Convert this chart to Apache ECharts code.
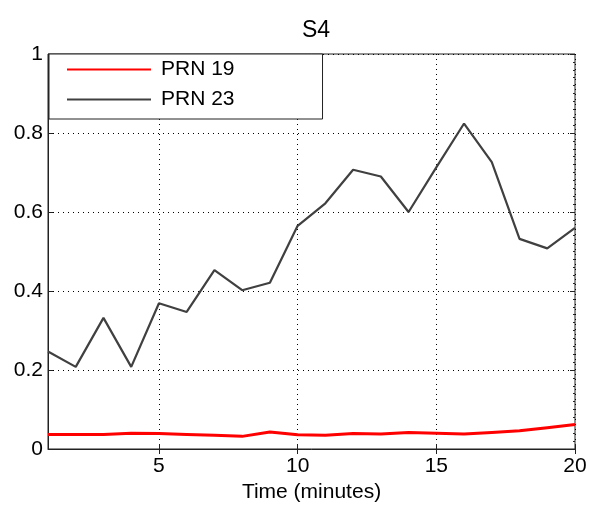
<!DOCTYPE html>
<html>
<head>
<meta charset="utf-8">
<script src="https://cdn.jsdelivr.net/npm/echarts@6/dist/echarts.min.js"></script>
<style>
  html, body { margin: 0; padding: 0; background: #fff; }
  #chart { width: 590px; height: 508px; }
</style>
</head>
<body>
<div id="chart"></div>
<script>
// time in minutes
const minutes = [1, 2, 3, 4, 5, 6, 7, 8, 9, 10, 11, 12, 13, 14, 15, 16, 17, 18, 19, 20];
const prn19 = [0.037, 0.037, 0.037, 0.040, 0.039, 0.037, 0.035, 0.032, 0.043, 0.036,
               0.035, 0.039, 0.038, 0.042, 0.040, 0.038, 0.042, 0.046, 0.054, 0.062];
const prn23 = [0.247, 0.208, 0.332, 0.208, 0.369, 0.347, 0.453, 0.402, 0.421, 0.565,
               0.622, 0.707, 0.690, 0.600, 0.713, 0.824, 0.726, 0.532, 0.508, 0.560];
const xTicks = [5, 10, 15, 20];

const font = '"Liberation Sans", Arial, sans-serif';

function pairs(ys) {
  return minutes.map((x, i) => [x, ys[i]]);
}

const chart = echarts.init(document.getElementById('chart'));

const tickStyle = { lineStyle: { color: '#222', width: 1 } };
const labelFont = { fontFamily: font, fontSize: 21, color: '#000' };

let option = {
  backgroundColor: '#fff',
  animation: false,
  title: {
    text: 'S4',
    left: 311,
    top: 14,
    textAlign: 'center',
    textStyle: { fontFamily: font, fontSize: 23, fontWeight: 'normal', color: '#000' }
  },
  legend: {
    orient: 'vertical',
    left: 49,
    top: 54,
    padding: [5, 88, 9, 17],
    itemGap: 9,
    itemWidth: 84,
    itemHeight: 21,
    itemStyle: { opacity: 0 },
    borderColor: '#222',
    borderWidth: 1,
    backgroundColor: '#fff',
    textStyle: { ...labelFont, padding: [0, 0, 0, 5] },
    data: ['PRN 19', 'PRN 23']
  },
  grid: {
    left: 48, right: 15, top: 54, bottom: 55,
    show: true,
    borderColor: '#222',
    borderWidth: 1
  },
  xAxis: [{
    type: 'value',
    min: 1,
    max: 20,
    name: 'Time (minutes)',
    nameLocation: 'middle',
    nameGap: 33,
    nameTextStyle: labelFont,
    axisLine: { show: true, lineStyle: { color: '#222' } },
    axisTick: { inside: true, length: 5, customValues: xTicks, ...tickStyle },
    axisLabel: { customValues: xTicks, ...labelFont, margin: 7 },
    splitLine: { show: true, lineStyle: { color: '#000', type: [1, 4], width: 1 } }
  }, {
    type: 'value',
    min: 1,
    max: 20,
    position: 'top',
    axisLine: { show: false },
    axisTick: { inside: true, length: 5, customValues: xTicks, ...tickStyle },
    axisLabel: { show: false },
    splitLine: { show: false }
  }],
  yAxis: [{
    type: 'value',
    min: 0,
    max: 1,
    interval: 0.2,
    axisLine: { show: true, lineStyle: { color: '#222' } },
    axisTick: { show: true, inside: true, length: 5, ...tickStyle },
    axisLabel: { ...labelFont, margin: 5 },
    splitLine: { show: true, lineStyle: { color: '#000', type: [1, 4], width: 1 } }
  }, {
    type: 'value',
    min: 0,
    max: 1,
    interval: 0.2,
    position: 'right',
    axisLine: { show: false },
    axisTick: { show: true, inside: true, length: 5, ...tickStyle },
    minorTick: { show: true, splitNumber: 10, length: 2, lineStyle: { color: '#222' } },
    axisLabel: { show: false },
    splitLine: { show: false }
  }],
  series: [{
    name: 'PRN 19',
    type: 'line',
    symbol: 'none',
    data: pairs(prn19),
    itemStyle: { color: '#ff0000' },
    lineStyle: { color: '#ff0000', width: 3 },
    z: 3
  }, {
    name: 'PRN 23',
    type: 'line',
    symbol: 'none',
    data: pairs(prn23),
    itemStyle: { color: '#404040' },
    lineStyle: { color: '#404040', width: 2.2 },
    z: 2
  }]
};

chart.setOption(option);
</script>
</body>
</html>
